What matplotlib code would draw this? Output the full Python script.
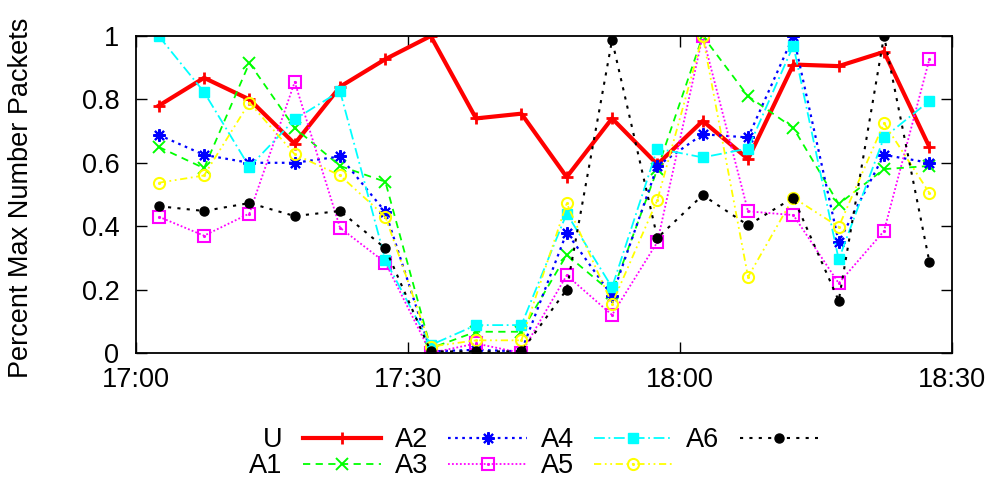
import matplotlib
matplotlib.use("Agg")
import matplotlib.pyplot as plt
import matplotlib.dates as mdates
import pandas as pd

# ── Data ──────────────────────────────────────────────────────────────────
times = ["17:02:30", "17:07:30", "17:12:30", "17:17:30", "17:22:30", "17:27:30",
         "17:32:30", "17:37:30", "17:42:30", "17:47:30", "17:52:30", "17:57:30",
         "18:02:30", "18:07:30", "18:12:30", "18:17:30", "18:22:30", "18:27:30"]

u  = [0.78, 0.868, 0.80, 0.66, 0.84, 0.927, 1.0, 0.74, 0.755, 0.555, 0.74, 0.595,
      0.732, 0.612, 0.91, 0.905, 0.95, 0.65]
a1 = [0.65, 0.583, 0.915, 0.71, 0.59, 0.54, 0.015, 0.067, 0.067, 0.31, 0.19, 0.58,
      1.0, 0.81, 0.71, 0.47, 0.58, 0.59]
a2 = [0.688, 0.625, 0.60, 0.60, 0.62, 0.445, 0.005, 0.01, 0.005, 0.38, 0.18, 0.59,
      0.69, 0.68, 1.0, 0.35, 0.625, 0.60]
a3 = [0.43, 0.37, 0.44, 0.855, 0.395, 0.285, 0.0, 0.03, 0.0, 0.245, 0.12, 0.35,
      1.0, 0.447, 0.435, 0.22, 0.385, 0.927]
a4 = [1.0, 0.823, 0.587, 0.737, 0.826, 0.293, 0.025, 0.088, 0.088, 0.44, 0.207, 0.645,
      0.617, 0.645, 0.97, 0.295, 0.68, 0.795]
a5 = [0.537, 0.56, 0.79, 0.627, 0.56, 0.43, 0.02, 0.04, 0.04, 0.472, 0.155, 0.483,
      1.0, 0.24, 0.49, 0.398, 0.725, 0.505]
a6 = [0.463, 0.448, 0.473, 0.432, 0.448, 0.33, 0.005, 0.005, 0.005, 0.2, 0.987, 0.363,
      0.498, 0.403, 0.49, 0.165, 1.0, 0.288]

x_ticks = ["17:00", "17:30", "18:00", "18:30"]
y_ticks = [0, 0.2, 0.4, 0.6, 0.8, 1]
y_labels = ["0", "0.2", "0.4", "0.6", "0.8", "1"]

day = "2000-01-01 "
tx = pd.to_datetime([day + t for t in times])
xt = pd.to_datetime([day + t for t in x_ticks])

plt.rcParams["font.family"] = ["Liberation Sans", "DejaVu Sans"]
FS = 19.5

fig = plt.figure(figsize=(9.88, 4.80), dpi=100)
ax = fig.add_axes([0.1377, 0.2646, 0.8259, 0.6604])

h_u, = ax.plot(tx, u, color="#ff0000", lw=3, ls="-", marker="+", ms=8, mew=2)
h_a1, = ax.plot(tx, a1, color="#00ff00", lw=1.3, ls=(0, (4, 3)), marker="x", ms=8, mew=1.4)
h_a2, = ax.plot(tx, a2, color="#0000ff", lw=1.6, ls=(0, (1.2, 2)), marker=(8, 2, 0), ms=9, mew=1.5)
h_a3, = ax.plot(tx, a3, color="#ff00ff", lw=1.3, ls=(0, (1, 1.2)), marker="s", ms=8,
                mfc="none", mew=1.5)
d_a3, = ax.plot(tx, a3, ls="none", color="#ff00ff", marker=".", ms=2.5)
h_a4, = ax.plot(tx, a4, color="#00ffff", lw=1.3, ls=(0, (6, 2, 1, 2)), marker="s", ms=7)
h_a5, = ax.plot(tx, a5, color="#ffff00", lw=1.3, ls=(0, (4, 2, 1, 2, 1, 2)), marker="o", ms=8,
                mfc="none", mew=1.5)
d_a5, = ax.plot(tx, a5, ls="none", color="#ffff00", marker=".", ms=2.5)
h_a6, = ax.plot(tx, a6, color="#000000", lw=1.5, ls=(0, (1.5, 3)), marker="o", ms=6.5)

ax.set_xlim(xt[0], xt[-1])
ax.set_ylim(0, 1)
ax.set_xticks(xt)
ax.xaxis.set_major_formatter(mdates.DateFormatter("%H:%M"))
ax.set_yticks(y_ticks)
ax.set_yticklabels(y_labels)
ax.tick_params(direction="in", length=8, width=1, top=True, right=True, labelsize=FS)
ax.tick_params(axis="y", pad=12)
ax.tick_params(axis="x", pad=10)
for s in ax.spines.values():
    s.set_linewidth(1.3)
ax.set_ylabel("Percent Max Number Packets", fontsize=FS)
ax.yaxis.set_label_coords(-0.125, 0.49)

handles = [h_u, h_a1, h_a2, (h_a3, d_a3), h_a4, (h_a5, d_a5), h_a6]
labels = ["U", "A1", "A2", "A3", "A4", "A5", "A6"]
fig.legend(handles, labels, loc="center", bbox_to_anchor=(0.54, 0.056), ncol=4,
           frameon=False, markerfirst=False, fontsize=FS, handlelength=2.9,
           columnspacing=0.5, handletextpad=0.75, labelspacing=0.0,
           borderaxespad=0, borderpad=0)

fig.savefig("out.png", dpi=100)
